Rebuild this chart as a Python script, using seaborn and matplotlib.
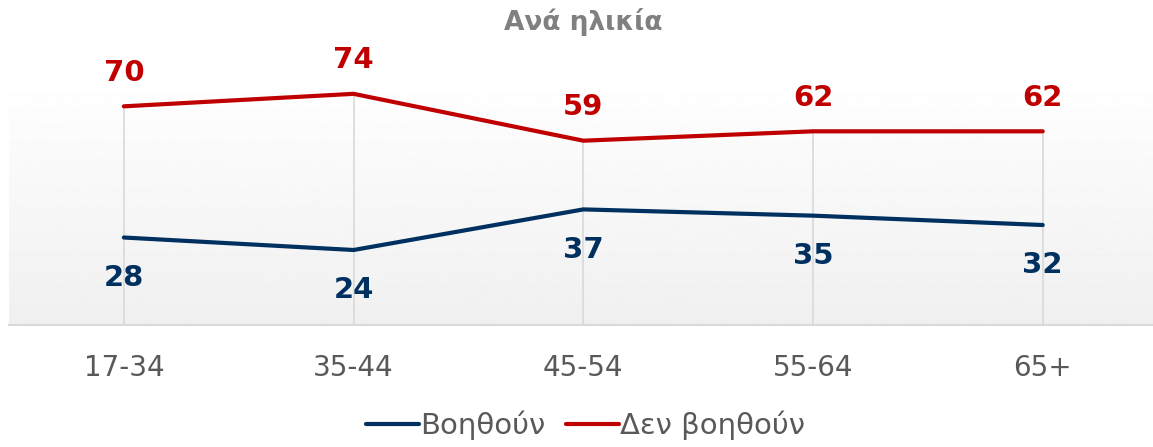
import numpy as np
import pandas as pd
import matplotlib
matplotlib.use('Agg')
import matplotlib.pyplot as plt
import seaborn as sns

# δεδομένα
ages = ['17-34', '35-44', '45-54', '55-64', '65+']
helps = [28, 24, 37, 35, 32]          # Βοηθούν
not_helps = [70, 74, 59, 62, 62]      # Δεν βοηθούν
series_names = ['Βοηθούν', 'Δεν βοηθούν']
colors = ['#00305F', '#C00000']

sns.set_style('white')
plt.rcParams['font.family'] = ['DejaVu Sans']

df = pd.DataFrame({
    'age': ages * 2,
    'pos': list(range(len(ages))) * 2,
    'value': helps + not_helps,
    'series': [series_names[0]] * len(ages) + [series_names[1]] * len(ages),
})

fig = plt.figure(figsize=(11.53, 4.47), dpi=100)
ax = fig.add_axes([0.0078, 0.273, 0.9922, 0.559])

# φόντο με διαβάθμιση (λευκό -> ανοιχτό γκρι)
grad = np.linspace(1.0, 0.94, 256).reshape(-1, 1)
ax.imshow(grad, cmap='gray', vmin=0, vmax=1, aspect='auto',
          extent=[0, 1, 0, 1], transform=ax.transAxes, zorder=0)

# drop lines από την ψηλότερη σειρά ως τον άξονα
ax.vlines(range(len(ages)), 0, not_helps, color='#d9d9d9', lw=1.2, zorder=1)

sns.lineplot(data=df, x='pos', y='value', hue='series', palette=colors,
             linewidth=3, ax=ax, zorder=3, legend=True)

for i, v in enumerate(not_helps):
    ax.annotate(str(v), (i, v), xytext=(0, 14), textcoords='offset points',
                ha='center', va='bottom', fontsize=21, fontweight='bold', color=colors[1])
for i, v in enumerate(helps):
    ax.annotate(str(v), (i, v), xytext=(0, -19), textcoords='offset points',
                ha='center', va='top', fontsize=21, fontweight='bold', color=colors[0])

ax.set_xlim(-0.5, 4.48)
ax.set_ylim(0, 80)
ax.set_xticks(range(len(ages)))
ax.set_xticklabels(ages, fontsize=20, color='#595959')
ax.tick_params(axis='x', length=0, pad=21)
ax.set_yticks([])
ax.set_xlabel('')
ax.set_ylabel('')
for s in ['top', 'left', 'right']:
    ax.spines[s].set_visible(False)
ax.spines['bottom'].set_color('#d9d9d9')
ax.spines['bottom'].set_linewidth(1.5)

fig.text(0.506, 0.95, 'Ανά ηλικία', ha='center', va='center',
         fontsize=19, fontweight='bold', color='#808080')

h, l = ax.get_legend_handles_labels()
ax.get_legend().remove()
leg = fig.legend(h, l, loc='center', bbox_to_anchor=(0.508, 0.048), ncol=2,
                 frameon=False, fontsize=21, handlelength=1.8, handletextpad=0.05,
                 columnspacing=0.7)
for t in leg.get_texts():
    t.set_color('#595959')

fig.savefig('out.png', dpi=100)
